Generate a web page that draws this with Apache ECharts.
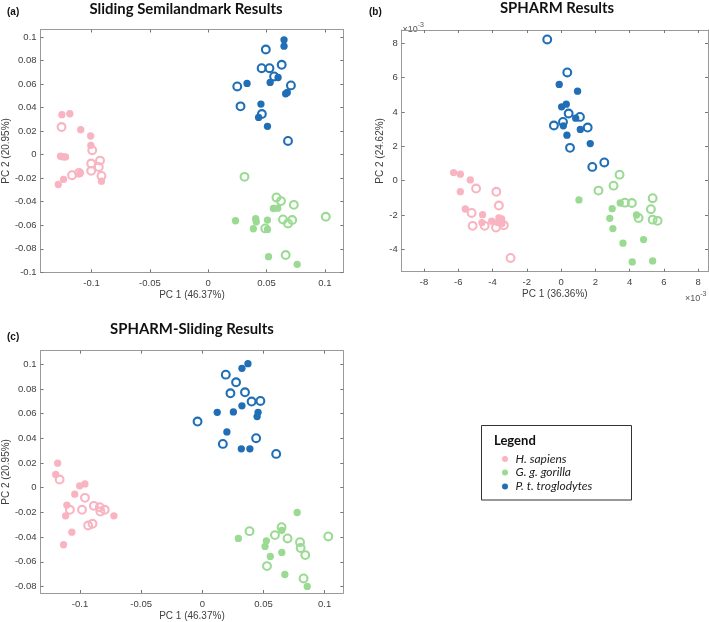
<!DOCTYPE html>
<html><head><meta charset="utf-8">
<script src="https://cdn.jsdelivr.net/npm/echarts@6/dist/echarts.min.js"></script>
<style>html,body{margin:0;padding:0;background:#fff}#c{width:709px;height:622px}</style>
</head><body><div id="c"></div>
<script>
// ---- data ----
const speciesNames = ['H. sapiens', 'G. g. gorilla', 'P. t. troglodytes'];
const panelTitles = ['Sliding Semilandmark Results', 'SPHARM Results', 'SPHARM-Sliding Results'];
const panelLetters = ['(a)', '(b)', '(c)'];
const xNames = ['PC 1 (46.37%)', 'PC 1 (36.36%)', 'PC 1 (46.37%)'];
const yNames = ['PC 2 (20.95%)', 'PC 2 (24.62%)', 'PC 2 (20.95%)'];

const xTicksA = [-0.1, -0.05, 0, 0.05, 0.1];
const yTicksA = [-0.1, -0.08, -0.06, -0.04, -0.02, 0, 0.02, 0.04, 0.06, 0.08, 0.1];
const xTicksB = [-8, -6, -4, -2, 0, 2, 4, 6, 8];
const yTicksB = [-4, -2, 0, 2, 4, 6, 8];
const xTicksC = [-0.1, -0.05, 0, 0.05, 0.1];
const yTicksC = [-0.08, -0.06, -0.04, -0.02, 0, 0.02, 0.04, 0.06, 0.08, 0.1];

// Panel (a)
const aSapFill = [[-0.1254,0.0339],[-0.1186,0.0347],[-0.1093,0.0212],[-0.1008,0.0158],[-0.1006,0.0079],[-0.1266,-0.0014],[-0.1243,-0.002],[-0.1223,-0.002],[-0.124,-0.021],[-0.1285,-0.0254],[-0.1100,-0.0160],[-0.0915,-0.0226]];
const aSapOpen = [[-0.1257,0.0234],[-0.0994,0.0037],[-0.0927,-0.0051],[-0.1003,-0.0076],[-0.0938,-0.0105],[-0.1003,-0.0138],[-0.0915,-0.0181],[-0.1167,-0.0175],[-0.1107,-0.0155]];
const aGorFill = [[0.0559,-0.0458],[0.0596,-0.0455],[0.0234,-0.0562],[0.0407,-0.0545],[0.0412,-0.0571],[0.0387,-0.063],[0.0508,-0.0556],[0.0508,-0.0636],[0.0517,-0.0867],[0.0763,-0.0932]];
const aGorOpen = [[0.0311,-0.0189],[0.0585,-0.0364],[0.0624,-0.0395],[0.0734,-0.0427],[0.1008,-0.0528],[0.0641,-0.0551],[0.072,-0.0556],[0.0684,-0.0585],[0.0489,-0.0627],[0.0664,-0.0853]];
const aTroFill = [[0.065,0.0975],[0.065,0.0921],[0.0333,0.0605],[0.0531,0.0613],[0.0599,0.0655],[0.0452,0.0429],[0.0432,0.0316],[0.0508,0.024],[0.0664,0.0517],[0.0678,0.0528]];
const aTroOpen = [[0.0494,0.0893],[0.0458,0.0734],[0.0525,0.0734],[0.063,0.0763],[0.0565,0.0664],[0.0249,0.0579],[0.0709,0.0588],[0.0277,0.041],[0.046,0.0345],[0.0684,0.0116]];

// Panel (b), values in units of 1e-3
const bSapFill = [[-6.27,0.47],[-5.88,0.38],[-5.30,0.04],[-5.88,-0.64],[-5.59,-1.65],[-4.58,-1.98],[-4.05,-2.36],[-4.62,-2.44],[-3.63,-2.17],[-3.47,-2.23],[-3.70,-2.44],[-3.45,-2.50]];
const bSapOpen = [[-4.96,-0.46],[-3.78,-0.65],[-3.63,-1.45],[-5.22,-1.88],[-5.16,-2.63],[-4.46,-2.63],[-3.80,-2.73],[-3.34,-2.60],[-2.95,-4.50]];
const bGorFill = [[1.04,-1.12],[3.45,-1.30],[2.98,-1.63],[2.84,-2.19],[3.02,-2.79],[4.40,-2.00],[3.61,-3.64],[4.81,-3.43],[4.15,-4.73],[5.34,-4.67]];
const bGorOpen = [[3.41,0.35],[3.06,-0.29],[2.18,-0.58],[3.72,-1.28],[4.13,-1.30],[5.34,-1.02],[5.24,-1.66],[4.52,-2.17],[5.34,-2.27],[5.63,-2.34]];
const bTroFill = [[-0.11,5.60],[0.96,5.21],[0.03,4.30],[0.30,4.45],[0.85,3.64],[0.13,3.19],[0.34,2.65],[1.12,2.98],[1.70,2.16]];
const bTroOpen = [[-0.81,8.22],[0.36,6.30],[0.44,3.91],[0.11,3.42],[-0.42,3.21],[1.10,3.71],[1.55,3.09],[0.52,1.91],[1.82,0.80],[2.52,1.06]];

// Panel (c)
const cSapFill = [[-0.1183,0.0199],[-0.1199,0.0107],[-0.1003,0.0015],[-0.096,0.0031],[-0.1043,-0.0052],[-0.1108,-0.0141],[-0.1118,-0.0228],[-0.1067,-0.036],[-0.1135,-0.0462],[-0.0723,-0.0228]];
const cSapOpen = [[-0.1167,0.0066],[-0.096,-0.0082],[-0.1083,-0.0179],[-0.0984,-0.0179],[-0.0887,-0.0147],[-0.0839,-0.0158],[-0.0798,-0.0179],[-0.0834,-0.0193],[-0.0934,-0.0306],[-0.0898,-0.0292]];
const cGorFill = [[0.0776,-0.0201],[0.0295,-0.0411],[0.0524,-0.043],[0.0513,-0.0476],[0.0650,-0.0345],[0.065,-0.0524],[0.0556,-0.0557],[0.0675,-0.0703],[0.0858,-0.08]];
const cGorOpen = [[0.0386,-0.0352],[0.0648,-0.032],[0.0594,-0.0384],[0.0697,-0.0411],[0.0799,-0.0441],[0.0804,-0.0489],[0.0842,-0.0546],[0.103,-0.0395],[0.0529,-0.0635],[0.0828,-0.0735]];
const cTroFill = [[0.0373,0.1005],[0.0324,0.0967],[0.0324,0.0663],[0.0254,0.0614],[0.0122,0.0611],[0.0456,0.0611],[0.0448,0.0576],[0.0201,0.0452],[0.0319,0.0315],[0.0389,0.0315]];
const cTroOpen = [[0.0192,0.0916],[0.0276,0.0854],[0.023,0.0765],[0.0349,0.0773],[0.0403,0.0698],[0.0475,0.0703],[-0.0039,0.0536],[0.0168,0.0355],[0.044,0.0401],[0.0604,0.0274]];

// ---- style ----
const COLORS = ['#F9B4C1', '#9BDA93', '#1F6EB6'];
const AXIS = '#9a9a9a';
const LABEL = '#404040';

const panels = [
  { grid: {left: 36.7, top: 29.5, width: 306.6, height: 242.8}, x: [-0.1437, 0.1158], y: [-0.1, 0.1063], xt: xTicksA, yt: yTicksA,
    data: [[aSapFill, aSapOpen], [aGorFill, aGorOpen], [aTroFill, aTroOpen]] },
  { grid: {left: 401.7, top: 30, width: 306.3, height: 241.7}, x: [-9.30, 8.57], y: [-5.30, 8.77], xt: xTicksB, yt: yTicksB,
    data: [[bSapFill, bSapOpen], [bGorFill, bGorOpen], [bTroFill, bTroOpen]] },
  { grid: {left: 36.7, top: 350.7, width: 306.6, height: 242.6}, x: [-0.1323, 0.1153], y: [-0.0853, 0.111], xt: xTicksC, yt: yTicksC,
    data: [[cSapFill, cSapOpen], [cGorFill, cGorOpen], [cTroFill, cTroOpen]] }
];

const fmt = v => String(Math.round(v * 10000) / 10000);

const grids = [], xAxes = [], yAxes = [], series = [];
panels.forEach((p, i) => {
  grids.push(Object.assign({containLabel: false}, p.grid));
  const common = (min, max, ticks) => ({
    type: 'value', gridIndex: i, min, max, scale: true,
    splitLine: {show: false},
    axisLine: {show: true, onZero: false, lineStyle: {color: AXIS, width: 1}},
    axisTick: {show: true, inside: true, length: 3, customValues: ticks, lineStyle: {color: '#777'}},
  });
  xAxes.push(Object.assign(common(p.x[0], p.x[1], p.xt), {
    position: 'bottom',
    axisLabel: {show: true, customValues: p.xt, formatter: fmt, color: LABEL, fontSize: 9.5, fontFamily: 'Liberation Sans', margin: 6},
    name: xNames[i], nameLocation: 'middle', nameGap: 18,
    nameTextStyle: {color: '#404040', fontSize: 10, fontFamily: 'Liberation Sans'}
  }));
  xAxes.push(Object.assign(common(p.x[0], p.x[1], p.xt), {position: 'top', axisLabel: {show: false}}));
  yAxes.push(Object.assign(common(p.y[0], p.y[1], p.yt), {
    position: 'left',
    axisLabel: {show: true, customValues: p.yt, formatter: fmt, color: LABEL, fontSize: 9.5, fontFamily: 'Liberation Sans', margin: 4},
    name: yNames[i], nameLocation: 'middle', nameGap: i === 1 ? 15 : 27,
    nameTextStyle: {color: '#404040', fontSize: 10, fontFamily: 'Liberation Sans'}
  }));
  yAxes.push(Object.assign(common(p.y[0], p.y[1], p.yt), {position: 'right', axisLabel: {show: false}}));
  p.data.forEach((pair, s) => {
    series.push({
      type: 'scatter', name: speciesNames[s], xAxisIndex: i * 2, yAxisIndex: i * 2,
      data: pair[0], symbol: 'circle', symbolSize: 7.3,
      itemStyle: {color: COLORS[s], opacity: 1}, emphasis: {disabled: true}
    });
    series.push({
      type: 'scatter', name: speciesNames[s] + ' ', xAxisIndex: i * 2, yAxisIndex: i * 2,
      data: pair[1], symbol: 'circle', symbolSize: 7.8,
      itemStyle: {color: 'rgba(255,255,255,0)', borderColor: COLORS[s], borderWidth: 2.1, opacity: 1}, emphasis: {disabled: true}
    });
  });
});

const titleFont = 'Lato, "Open Sans", sans-serif';
const graphic = [
  {type: 'text', x: 186, y: 9, style: {text: panelTitles[0], font: 'bold 14.9px ' + titleFont, fill: '#111', textAlign: 'center', textVerticalAlign: 'middle'}},
  {type: 'text', x: 557, y: 8, style: {text: panelTitles[1], font: 'bold 14.9px ' + titleFont, fill: '#111', textAlign: 'center', textVerticalAlign: 'middle'}},
  {type: 'text', x: 192, y: 329, style: {text: panelTitles[2], font: 'bold 14.9px ' + titleFont, fill: '#111', textAlign: 'center', textVerticalAlign: 'middle'}},
  {type: 'text', x: 7, y: 12, style: {text: panelLetters[0], font: 'bold 10px "Liberation Sans"', fill: '#111', textVerticalAlign: 'middle'}},
  {type: 'text', x: 369, y: 12, style: {text: panelLetters[1], font: 'bold 10px "Liberation Sans"', fill: '#111', textVerticalAlign: 'middle'}},
  {type: 'text', x: 7, y: 337, style: {text: panelLetters[2], font: 'bold 10px "Liberation Sans"', fill: '#111', textVerticalAlign: 'middle'}},
  {type: 'text', x: 402.5, y: 21, style: {text: '{a|×10}{b|-3}', rich: {a: {fontSize: 9, fontFamily: 'Liberation Sans', fill: '#555', padding: [4, 0, 0, 0]}, b: {fontSize: 7, fontFamily: 'Liberation Sans', fill: '#555', padding: [0, 0, 4, 0]}}}},
  {type: 'text', x: 685, y: 290, style: {text: '{a|×10}{b|-3}', rich: {a: {fontSize: 9, fontFamily: 'Liberation Sans', fill: '#555', padding: [4, 0, 0, 0]}, b: {fontSize: 7, fontFamily: 'Liberation Sans', fill: '#555', padding: [0, 0, 4, 0]}}}},
  // legend box
  {type: 'rect', shape: {x: 481.5, y: 425.5, width: 150, height: 74.5}, style: {fill: '#fff', stroke: '#333', lineWidth: 1}},
  {type: 'text', x: 494, y: 441, style: {text: 'Legend', font: 'bold 13px ' + titleFont, fill: '#111', textVerticalAlign: 'middle'}}
];
const legendY = [459, 472.5, 486.5];
speciesNames.forEach((n, s) => {
  graphic.push({type: 'circle', shape: {cx: 505, cy: legendY[s], r: 3}, style: {fill: COLORS[s]}});
  graphic.push({type: 'text', x: 515.5, y: legendY[s], style: {text: n, font: 'italic 12px ' + titleFont, fill: '#222', textVerticalAlign: 'middle'}});
});

const chart = echarts.init(document.getElementById('c'), null, {renderer: 'canvas'});
chart.setOption({animation: false, grid: grids, xAxis: xAxes, yAxis: yAxes, series, graphic});
</script></body></html>
